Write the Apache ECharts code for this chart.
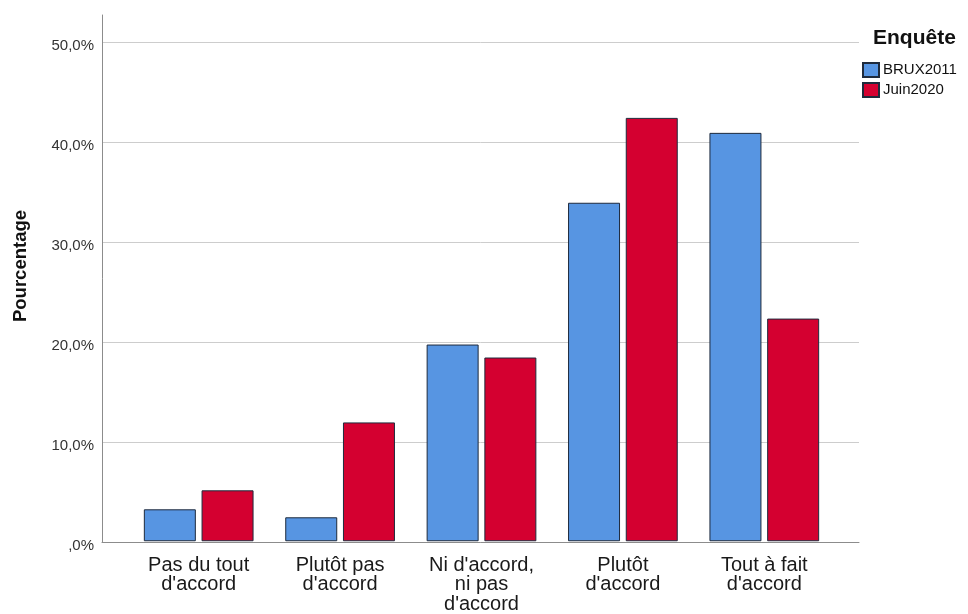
<!DOCTYPE html>
<html>
<head>
<meta charset="utf-8">
<script src="https://cdn.jsdelivr.net/npm/echarts@6/dist/echarts.min.js"></script>
<style>html,body{margin:0;padding:0;background:#fff}#c{width:968px;height:614px}</style>
</head>
<body>
<div id="c"></div>
<script>
const categories = ["Pas du tout\nd'accord", "Plutôt pas\nd'accord", "Ni d'accord,\nni pas\nd'accord", "Plutôt\nd'accord", "Tout à fait\nd'accord"];
const seriesNames = ["BRUX2011", "Juin2020"];
const brux2011 = [3.2, 2.4, 19.7, 33.9, 40.9];
const juin2020 = [5.1, 11.9, 18.4, 42.4, 22.3];
const yTicks = [0, 10, 20, 30, 40, 50];

const chart = echarts.init(document.getElementById('c'), null, {renderer: 'canvas'});
const sans = "'Liberation Sans', Arial, sans-serif";
const axisGray = '#8c8c8c';
const border = '#1e2a3c';
const fmt = v => (v === 0 ? ',0' : v.toFixed(1).replace('.', ',')) + '%';

chart.setOption({
  animation: false,
  backgroundColor: '#fff',
  title: {
    text: 'Enquête', left: 873, top: 28, padding: 0,
    textStyle: {fontFamily: sans, fontWeight: 'bold', fontSize: 21, color: '#111'}
  },
  legend: {
    data: seriesNames, orient: 'vertical', left: 862, top: 62, padding: 0,
    itemWidth: 16, itemHeight: 14, itemGap: 4, icon: 'rect',
    textStyle: {fontFamily: sans, fontSize: 15, color: '#111', padding: [0, 0, 0, -1]}
  },
  graphic: [{
    type: 'text', x: 21, y: 266, rotation: Math.PI / 2,
    style: {text: 'Pourcentage', fontFamily: sans, fontWeight: 'bold', fontSize: 18.5, fill: '#111', align: 'center', verticalAlign: 'middle'}
  }],
  grid: [
    {left: 102, right: 109, top: 15, bottom: 71.5},
    {left: 102, right: 109, top: 42, bottom: 71.5},
    {left: 128, right: 133, top: 42, bottom: 71.5}
  ],
  xAxis: [
    {gridIndex: 0, type: 'value', min: 0, max: 1, axisLine: {show: true, onZero: false, lineStyle: {color: axisGray, width: 1}}, axisTick: {show: false}, axisLabel: {show: false}, splitLine: {show: false}},
    {gridIndex: 1, type: 'value', min: 0, max: 1, show: false},
    {gridIndex: 2, type: 'category', data: categories, axisLine: {show: false}, axisTick: {show: false},
      axisLabel: {interval: 0, margin: 14, fontFamily: sans, fontSize: 20, lineHeight: 19.5, color: '#1a1a1a'}}
  ],
  yAxis: [
    {gridIndex: 0, type: 'value', min: 0, max: 52.7, axisLine: {show: true, lineStyle: {color: axisGray, width: 1}}, axisTick: {show: false}, axisLabel: {show: false}, splitLine: {show: false}},
    {gridIndex: 1, type: 'value', min: 0, max: 50, interval: 10, axisLine: {show: false}, axisTick: {show: false},
      axisLabel: {margin: 8, formatter: fmt, fontFamily: sans, fontSize: 15, color: '#333', verticalAlign: 'top', lineHeight: 7, customValues: yTicks},
      splitLine: {show: true, lineStyle: {color: '#cdcdcd', width: 1}}},
    {gridIndex: 2, type: 'value', min: 0, max: 50, show: false}
  ],
  series: [
    {name: seriesNames[0], type: 'bar', xAxisIndex: 2, yAxisIndex: 2, data: brux2011, barWidth: 52, barGap: '11%',
      itemStyle: {color: '#5795e2', borderColor: border, borderWidth: 1}},
    {name: seriesNames[1], type: 'bar', xAxisIndex: 2, yAxisIndex: 2, data: juin2020, barWidth: 52, barGap: '11%',
      itemStyle: {color: '#d40030', borderColor: border, borderWidth: 1}}
  ]
});
</script>
</body>
</html>
